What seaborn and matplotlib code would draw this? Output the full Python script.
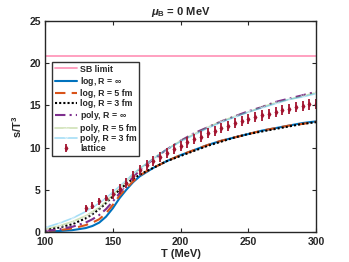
import numpy as np
import pandas as pd
import matplotlib
matplotlib.use("Agg")
import matplotlib.pyplot as plt
import seaborn as sns

sns.set_theme(style="white")
plt.rcParams['font.family'] = ['Liberation Sans', 'DejaVu Sans']
plt.rcParams['font.weight'] = 'bold'
plt.rcParams['mathtext.fontset'] = 'custom'
plt.rcParams['mathtext.bf'] = 'Liberation Sans:bold'
plt.rcParams['mathtext.it'] = 'Liberation Sans:italic:bold'
plt.rcParams['mathtext.rm'] = 'Liberation Sans:bold'

# ---- data ----
T_curve = [100, 110, 120, 130, 135, 140, 145, 150, 155, 160, 165, 170, 175, 180, 190, 200,
           210, 220, 230, 240, 250, 260, 270, 280, 290, 300]
log_inf = [0.05, 0.1, 0.2, 0.45, 0.7, 1.1, 1.8, 2.8, 4.0, 5.0, 5.9, 6.6, 7.1, 7.6, 8.4, 9.1,
           9.7, 10.3, 10.8, 11.2, 11.6, 12.0, 12.3, 12.6, 12.9, 13.1]
log_5 = [0.1, 0.2, 0.4, 0.8, 1.1, 1.5, 2.2, 3.2, 4.3, 5.2, 6.0, 6.7, 7.2, 7.6, 8.4, 9.1,
         9.7, 10.3, 10.8, 11.2, 11.6, 12.0, 12.3, 12.6, 12.8, 13.05]
log_3 = [0.2, 0.5, 0.9, 1.6, 2.1, 2.7, 3.4, 4.2, 5.0, 5.7, 6.3, 6.8, 7.2, 7.6, 8.4, 9.0,
         9.6, 10.2, 10.7, 11.2, 11.6, 11.9, 12.2, 12.5, 12.8, 13.0]
poly_inf = [0.1, 0.3, 0.6, 1.1, 1.5, 2.0, 2.7, 3.6, 4.6, 5.6, 6.5, 7.3, 8.0, 8.6, 9.8, 10.8,
            11.7, 12.4, 13.1, 13.7, 14.3, 14.8, 15.4, 15.8, 16.2, 16.6]
poly_5 = [0.3, 0.7, 1.2, 1.9, 2.4, 2.9, 3.6, 4.4, 5.2, 6.0, 6.8, 7.5, 8.1, 8.7, 9.8, 10.8,
          11.6, 12.4, 13.1, 13.7, 14.2, 14.8, 15.3, 15.7, 16.1, 16.5]
poly_3 = [0.5, 1.0, 1.6, 2.4, 2.9, 3.4, 4.0, 4.7, 5.4, 6.1, 6.9, 7.5, 8.1, 8.7, 9.8, 10.7,
          11.5, 12.3, 13.0, 13.6, 14.2, 14.7, 15.2, 15.7, 16.0, 16.4]
sb_limit = 20.8

T_lat = [130, 135, 140, 145, 150, 155, 160, 165, 170, 175, 180, 185, 190, 195, 200, 205, 210,
         215, 220, 225, 230, 235, 240, 245, 250, 255, 260, 265, 270, 275, 280, 285, 290, 295, 300]
s_lat = [2.8, 3.1, 3.6, 4.0, 4.5, 5.1, 5.8, 6.6, 7.3, 7.9, 8.4, 8.9, 9.4, 9.8, 10.2, 10.6, 11.0,
         11.3, 11.7, 12.0, 12.3, 12.6, 12.9, 13.1, 13.4, 13.6, 13.8, 14.0, 14.2, 14.4, 14.6, 14.8,
         14.9, 15.1, 15.2]
err_lat = [0.4] * 4 + [0.6] * 31

fig = plt.figure(figsize=(3.49, 2.62), dpi=100)
ax = fig.add_axes([0.129, 0.115, 0.777, 0.805])

ax.plot([100, 300], [sb_limit, sb_limit], color='#ff99bb', lw=1.3, label='SB limit')
sns.lineplot(x=T_curve, y=log_inf, ax=ax, color='#0072BD', lw=1.5, label=r'log, R = $\infty$')
sns.lineplot(x=T_curve, y=log_5, ax=ax, color='#D95319', lw=1.5, ls=(0, (5, 3)), label='log, R = 5 fm')
sns.lineplot(x=T_curve, y=log_3, ax=ax, color='black', lw=1.5, ls=(0, (1, 1)), label='log, R = 3 fm')
sns.lineplot(x=T_curve, y=poly_inf, ax=ax, color='#7E2F8E', lw=1.5, ls=(0, (5, 2, 1, 2)), label=r'poly, R = $\infty$')
sns.lineplot(x=T_curve, y=poly_5, ax=ax, color='#77AC30', alpha=0.35, lw=1.2, marker='+', markersize=5,
             label='poly, R = 5 fm')
sns.lineplot(x=T_curve, y=poly_3, ax=ax, color='#4DBEEE', alpha=0.5, lw=1.2, marker='x', markersize=4,
             label='poly, R = 3 fm')
ax.errorbar(T_lat, s_lat, yerr=err_lat, fmt='d', color='#A2142F', ms=2, elinewidth=1.3,
            capsize=0, label='lattice')

ax.set_xlim(100, 300)
ax.set_ylim(0, 25)
ax.set_xticks([100, 150, 200, 250, 300])
ax.set_yticks([0, 5, 10, 15, 20, 25])
ax.tick_params(direction='in', length=3, width=0.8, labelsize=7.5, top=True, right=True,
               bottom=True, left=True)
ax.tick_params(axis='x', pad=4)
ax.tick_params(axis='y', pad=3)
for lab in ax.get_xticklabels() + ax.get_yticklabels():
    lab.set_fontweight('bold')
for sp in ax.spines.values():
    sp.set_color('#262626')
    sp.set_linewidth(1.0)
ax.set_xlabel('T (MeV)', fontsize=8, fontweight='bold', labelpad=1)
ax.set_ylabel(r's/T$^3$', fontsize=8, fontweight='bold', labelpad=4)
ax.set_title(r'$\mu_\mathbf{B}$ = 0 MeV', fontsize=8, fontweight='bold', pad=4)

leg = ax.legend(loc='upper left', bbox_to_anchor=(0.026, 0.806), fontsize=6.3, frameon=True,
                fancybox=False, edgecolor='black', handlelength=2.6, handletextpad=0.3,
                labelspacing=0.14, borderpad=0.3, borderaxespad=0)
leg.get_frame().set_linewidth(1.0)
for t in leg.get_texts():
    t.set_fontweight('bold')

fig.savefig('out.png', dpi=100)
